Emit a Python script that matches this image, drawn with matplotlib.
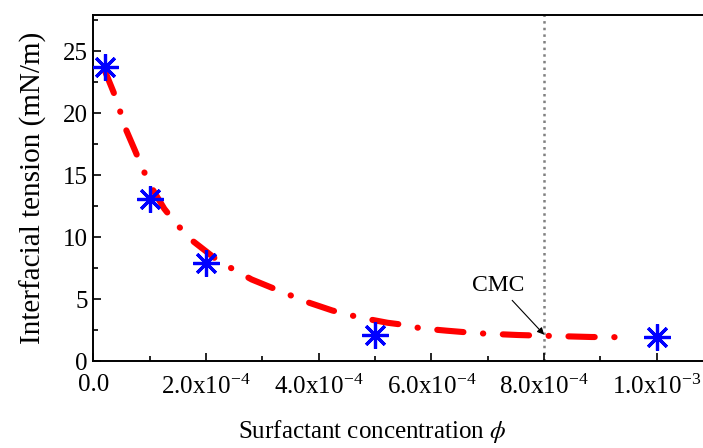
import numpy as np
import matplotlib
matplotlib.use("Agg")
import matplotlib.pyplot as plt
from matplotlib.ticker import MultipleLocator, FuncFormatter

plt.rcParams['font.family'] = ['Liberation Serif', 'DejaVu Serif']
plt.rcParams['mathtext.fontset'] = 'stix'

# measured points
conc = [0.2e-4, 1.0e-4, 2.0e-4, 5.0e-4, 10.0e-4]
tension = [23.7, 13.1, 7.9, 2.1, 1.94]

# fitted curve
fit_conc = [0.19e-4, 0.36e-4, 0.46e-4, 0.56e-4, 0.74e-4, 0.86e-4, 1.01e-4,
            1.26e-4, 1.49e-4, 1.78e-4, 2.19e-4, 2.49e-4, 2.81e-4, 3.78e-4,
            4.24e-4, 4.55e-4, 4.80e-4, 5.22e-4, 5.53e-4, 5.81e-4, 6.27e-4,
            6.83e-4, 7.54e-4, 8.02e-4, 8.84e-4, 9.58e-4]
fit_tension = [23.6, 21.7, 20.4, 18.9, 17.0, 15.7, 14.2,
               12.3, 11.0, 9.65, 8.2, 7.4, 6.6, 4.8,
               4.1, 3.73, 3.47, 3.11, 2.93, 2.66, 2.47,
               2.26, 2.12, 2.06, 1.96, 1.94]

cmc = 8.0e-4


def sci_fmt(v, pos):
    if abs(v) < 1e-12:
        return "0.0"
    exp = int(np.floor(np.log10(abs(v)) + 1e-9))
    mant = v / 10**exp
    return "%.1fx10$^{\\mathregular{%d}}$" % (mant, exp)


fig = plt.figure(figsize=(7.03, 4.48), dpi=100)
ax = fig.add_axes([0.1327, 0.1935, 0.8818, 0.7723])

ax.plot(fit_conc, fit_tension, color='red', lw=4.4,
        linestyle=(0, (4.3, 3.2, 0.05, 3.2)), dash_capstyle='round', zorder=2)
ax.plot(conc, tension, linestyle='none', marker=(8, 2, 0), markersize=19,
        markeredgewidth=2.3, color='blue', zorder=3)
ax.axvline(cmc, color='gray', linestyle=':', lw=1.8, zorder=1)

ax.annotate("CMC", xy=(cmc, 2.15), xytext=(7.18e-4, 6.15), fontsize=17,
            ha='center', va='center',
            arrowprops=dict(arrowstyle='-|>', color='black', lw=0.8,
                            mutation_scale=10, shrinkA=2, shrinkB=0))

ax.set_xlim(0, 1.1e-3)
ax.set_ylim(0, 27.9)
ax.xaxis.set_major_locator(MultipleLocator(2e-4))
ax.xaxis.set_minor_locator(MultipleLocator(1e-4))
ax.yaxis.set_major_locator(MultipleLocator(5))
ax.yaxis.set_minor_locator(MultipleLocator(2.5))
ax.xaxis.set_major_formatter(FuncFormatter(sci_fmt))

ax.tick_params(which='both', direction='in', top=False, right=False,
               width=1.2, labelsize=18)
ax.tick_params(which='major', length=6)
ax.tick_params(which='minor', length=3.5)
ax.tick_params(axis='x', pad=9)
ax.tick_params(axis='y', pad=4)
for s in ax.spines.values():
    s.set_linewidth(1.4)

ax.set_xlabel("Surfactant concentration $\\phi$", fontsize=18)
ax.xaxis.set_label_coords(0.45, -0.165)
ax.set_ylabel("Interfacial tension (mN/m)", fontsize=21, labelpad=11)

fig.savefig("out.png", dpi=100)
